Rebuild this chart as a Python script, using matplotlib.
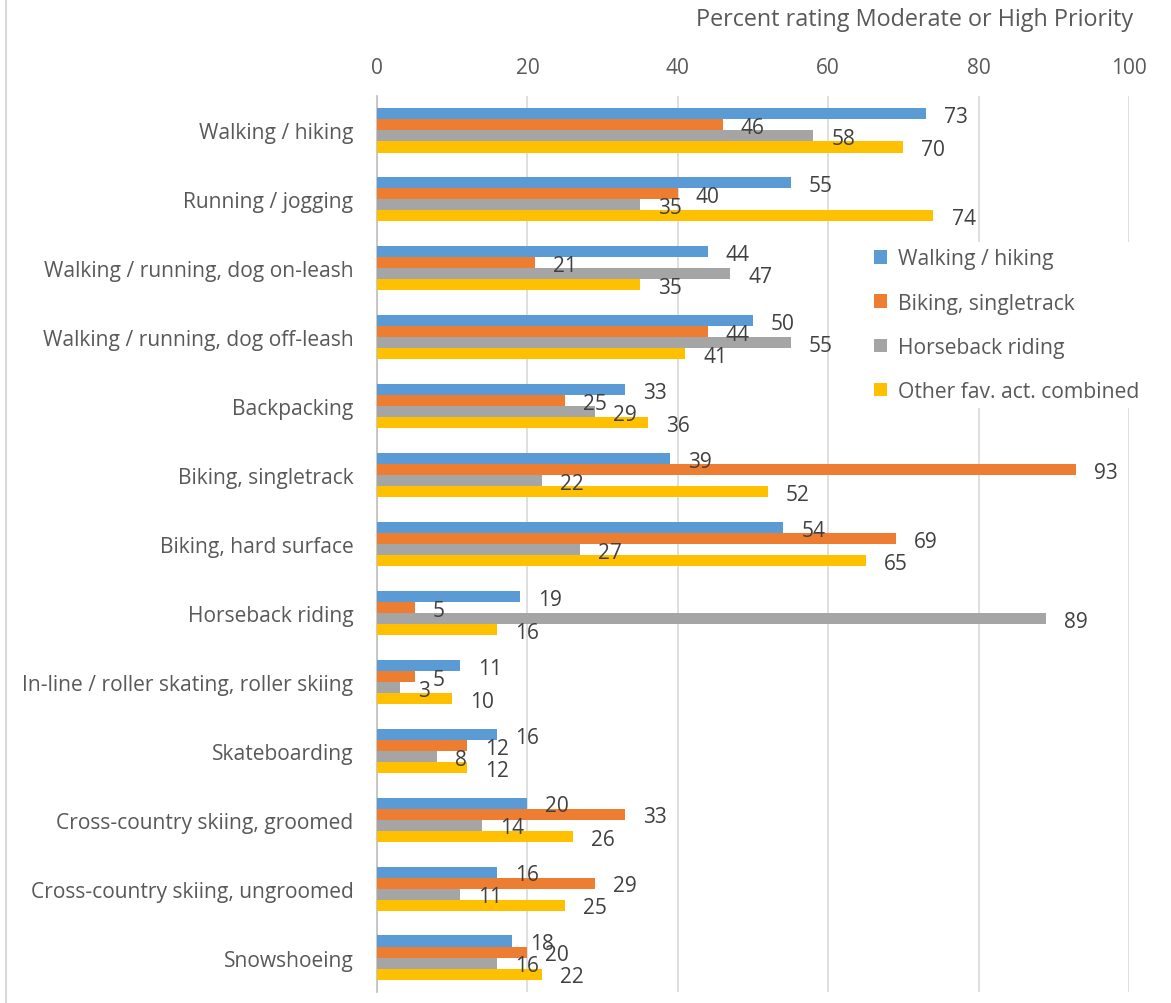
import numpy as np
import matplotlib.pyplot as plt
from matplotlib.lines import Line2D

plt.rcParams['font.family'] = ['Open Sans', 'DejaVu Sans']

# data
categories = [
    "Walking / hiking",
    "Running / jogging",
    "Walking / running, dog on-leash",
    "Walking / running, dog off-leash",
    "Backpacking",
    "Biking, singletrack",
    "Biking, hard surface",
    "Horseback riding",
    "In-line / roller skating, roller skiing",
    "Skateboarding",
    "Cross-country skiing, groomed",
    "Cross-country skiing, ungroomed",
    "Snowshoeing",
]
series_names = ["Walking / hiking", "Biking, singletrack", "Horseback riding", "Other fav. act. combined"]
walking = [73, 55, 44, 50, 33, 39, 54, 19, 11, 16, 20, 16, 18]
biking = [46, 40, 21, 44, 25, 93, 69, 5, 5, 12, 33, 29, 20]
horse = [58, 35, 47, 55, 29, 22, 27, 89, 3, 8, 14, 11, 16]
other = [70, 74, 35, 41, 36, 52, 65, 16, 10, 12, 26, 25, 22]
x_ticks = [0, 20, 40, 60, 80, 100]

colors = ["#5B9BD5", "#ED7D31", "#A5A5A5", "#FFC000"]
text_col = "#595959"
grid_col = "#D9D9D9"

fig = plt.figure(figsize=(11.71, 10.04), dpi=100)
ax = fig.add_axes([377 / 1171, 11 / 1004, (1129 - 377) / 1171, (993 - 97) / 1004])

y = np.arange(len(categories))
h = 0.16
all_series = [walking, biking, horse, other]
for i, vals in enumerate(all_series):
    pos = y + (i - 1.5) * h
    bars = ax.barh(pos, vals, height=h, color=colors[i], label=series_names[i], zorder=3)
    for b, v in zip(bars, vals):
        ax.annotate(str(v), (b.get_width(), b.get_y() + b.get_height() / 2),
                    xytext=(13, -2), textcoords="offset points",
                    ha="left", va="center", fontsize=15, color="#404040", zorder=4)

ax.set_xlim(0, 100)
ax.set_ylim(len(categories) - 0.5, -0.5)
ax.set_xticks(x_ticks)
ax.xaxis.tick_top()
ax.tick_params(axis="x", length=0, pad=13, labelsize=15, labelcolor=text_col)
ax.set_yticks(y)
ax.set_yticklabels(categories, fontsize=15.1, color=text_col)
ax.tick_params(axis="y", length=0, pad=17)
ax.grid(axis="x", color=grid_col, linewidth=1.2, zorder=0)
for s in ["top", "right", "bottom"]:
    ax.spines[s].set_visible(False)
ax.spines["left"].set_color("#BFBFBF")
ax.spines["left"].set_linewidth(1.2)

fig.text(1133 / 1171, 1 - 20 / 1004, "Percent rating Moderate or High Priority",
         ha="right", va="center", fontsize=16.8, color=text_col)

leg = ax.legend(loc="upper left", bbox_to_anchor=(868 / 1171, 1 - 243 / 1004),
                bbox_transform=fig.transFigure, frameon=True, fontsize=15.2,
                handlelength=0.6, handleheight=0.6, handletextpad=0.5,
                labelspacing=1.1, borderpad=0.3, borderaxespad=0)
leg.get_frame().set_edgecolor("none")
leg.get_frame().set_facecolor("white")
leg.get_frame().set_alpha(1)
for t in leg.get_texts():
    t.set_color(text_col)
leg.set_zorder(5)

# outer chart border on the left
fig.add_artist(Line2D([6 / 1171, 6 / 1171], [0, 1], transform=fig.transFigure,
                      color="#D9D9D9", linewidth=1.5))

fig.savefig("out.png", dpi=100)
